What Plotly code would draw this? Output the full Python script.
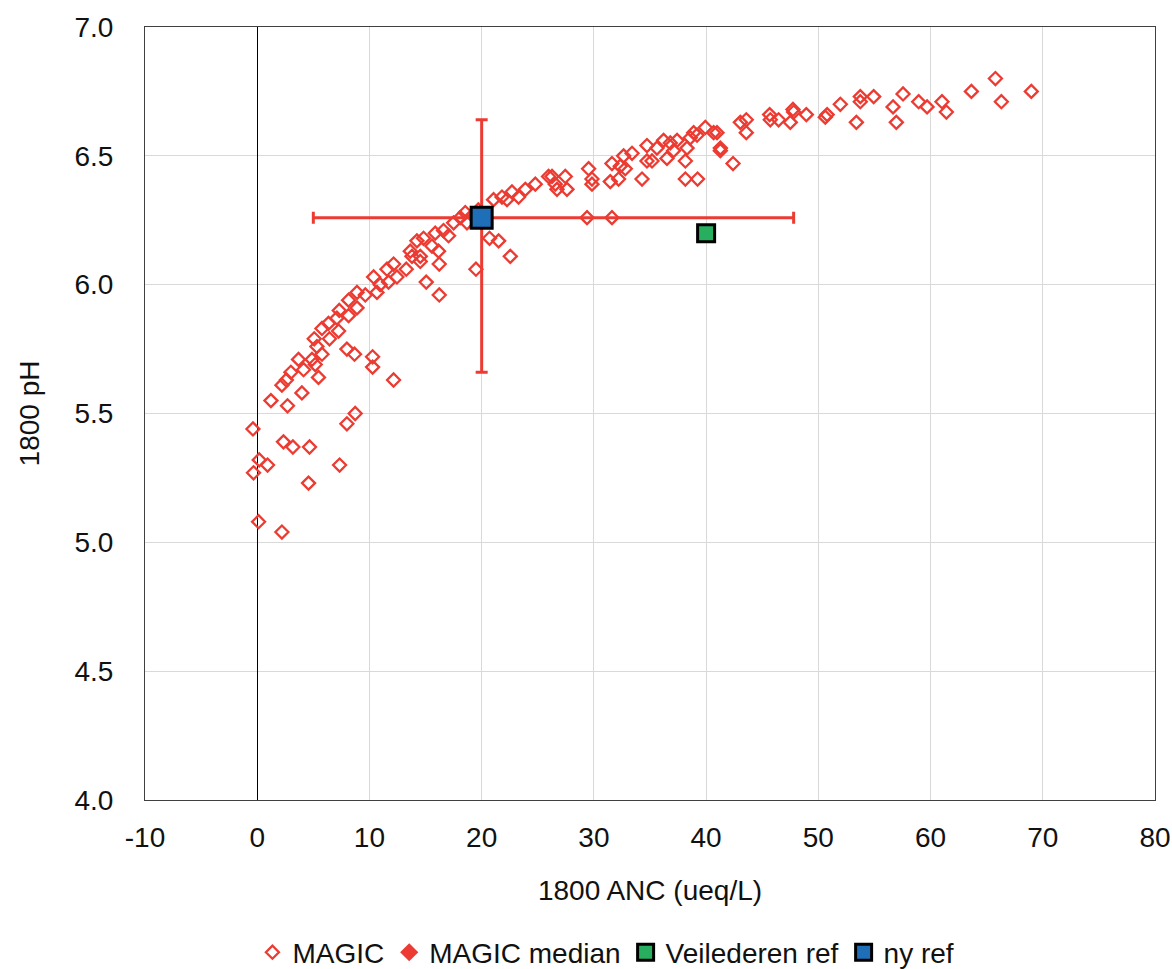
import plotly.graph_objects as go

# MAGIC simulated lakes: 1800 ANC (ueq/L) and 1800 pH
magic_anc = [
    -0.38, 0.18, -0.33, 0.92, 0.12, 2.20, 2.34, 3.18, 4.66, 4.57, 7.34, 7.99, 8.73,
    1.22, 2.70, 3.98, 5.46, 2.20, 2.60, 3.00, 3.68, 4.13, 4.88, 5.17, 5.77, 5.32,
    5.08, 5.77, 6.44, 6.35, 7.25, 7.10, 7.31, 8.14, 8.14, 8.89, 8.89, 9.63, 7.99,
    8.67, 10.28, 10.28, 12.15, 10.37, 10.67, 11.70, 12.45, 11.56, 12.15, 13.28,
    15.06, 16.22, 16.22, 19.49, 14.53,
    10.96, 13.64, 13.79, 14.23, 14.53, 14.82, 15.57, 15.86, 16.16, 16.60, 17.05,
    17.50, 18.09, 18.54, 18.69, 19.20, 19.70, 20.70, 21.51, 22.55, 21.06, 21.81,
    22.26, 22.70, 23.29, 23.89, 24.78, 25.96, 26.56, 26.71, 27.45, 27.60, 26.27,
    29.53, 29.83, 29.83, 29.39, 31.61, 31.46, 31.61, 32.20, 32.35, 32.65, 32.80,
    33.40, 34.29, 34.73, 34.73, 35.18, 35.62, 36.21, 36.51, 36.81, 37.10, 37.41,
    38.15, 38.15, 38.30, 38.59, 38.89, 39.19, 39.24, 39.93, 40.67, 40.97, 41.27,
    41.27, 42.40, 43.05, 43.58, 43.58, 45.66, 45.72, 46.46, 47.50, 47.74, 47.80,
    48.93, 50.62, 50.78, 51.96, 53.39, 53.74, 53.74, 54.93,
    56.66, 56.95, 57.55, 58.94, 59.69, 61.02, 61.41, 63.64, 65.78, 66.31, 68.98,
]
magic_ph = [
    5.44, 5.32, 5.27, 5.30, 5.08, 5.04, 5.39, 5.37, 5.37, 5.23, 5.30, 5.46, 5.50,
    5.55, 5.53, 5.58, 5.64, 5.61, 5.63, 5.66, 5.71, 5.67, 5.71, 5.69, 5.73, 5.76,
    5.79, 5.83, 5.79, 5.85, 5.82, 5.87, 5.90, 5.88, 5.94, 5.91, 5.97, 5.96, 5.75,
    5.73, 5.72, 5.68, 5.63, 6.03, 5.97, 6.01, 6.03, 6.06, 6.08, 6.06,
    6.01, 5.96, 6.08, 6.06, 6.09,
    6.00, 6.13, 6.11, 6.17, 6.11, 6.18, 6.15, 6.20, 6.13, 6.21, 6.19,
    6.24, 6.26, 6.28, 6.24, 6.27, 6.29, 6.18, 6.17, 6.11, 6.33, 6.34,
    6.33, 6.36, 6.34, 6.37, 6.39, 6.42, 6.39, 6.37, 6.42, 6.37, 6.42,
    6.45, 6.41, 6.39, 6.26, 6.26, 6.40, 6.47, 6.41, 6.46, 6.50, 6.45,
    6.51, 6.41, 6.54, 6.48, 6.48, 6.53, 6.56, 6.49, 6.55, 6.52, 6.56,
    6.48, 6.41, 6.53, 6.57, 6.59, 6.58, 6.41, 6.61, 6.59, 6.59, 6.53,
    6.52, 6.47, 6.63, 6.64, 6.59, 6.66, 6.64, 6.64, 6.63, 6.68, 6.67,
    6.66, 6.65, 6.66, 6.70, 6.63, 6.73, 6.71, 6.73,
    6.69, 6.63, 6.74, 6.71, 6.69, 6.71, 6.67, 6.75, 6.80, 6.71, 6.75,
]

# MAGIC median with spread (error bars)
median_anc = [20.0]
median_ph = [6.26]
median_anc_plus = [27.8]
median_anc_minus = [15.0]
median_ph_plus = [0.38]
median_ph_minus = [0.60]

# Reference points
veileder_anc = [40.0]
veileder_ph = [6.20]
nyref_anc = [20.0]
nyref_ph = [6.26]

# Tick labels
x_tickvals = [-10, 0, 10, 20, 30, 40, 50, 60, 70, 80]
x_ticktext = ["-10", "0", "10", "20", "30", "40", "50", "60", "70", "80"]
y_tickvals = [4.0, 4.5, 5.0, 5.5, 6.0, 6.5, 7.0]
y_ticktext = ["4.0", "4.5", "5.0", "5.5", "6.0", "6.5", "7.0"]

RED = "#EB3B32"
FONT = "Liberation Sans, Arial, sans-serif"

fig = go.Figure()
fig.add_trace(go.Scatter(
    x=magic_anc, y=magic_ph, mode="markers", name="MAGIC",
    marker=dict(symbol="diamond-open", size=10, color=RED, line=dict(width=2.3, color=RED)),
))
fig.add_trace(go.Scatter(
    x=median_anc, y=median_ph, mode="markers", name="MAGIC median",
    marker=dict(symbol="diamond", size=14, color=RED),
    error_x=dict(type="data", symmetric=False, array=median_anc_plus,
                 arrayminus=median_anc_minus, color=RED, thickness=3, width=6),
    error_y=dict(type="data", symmetric=False, array=median_ph_plus,
                 arrayminus=median_ph_minus, color=RED, thickness=3, width=6),
))
fig.add_trace(go.Scatter(
    x=veileder_anc, y=veileder_ph, mode="markers", name="Veilederen ref",
    marker=dict(symbol="square", size=17, color="#27AE5F", line=dict(width=3, color="black")),
))
fig.add_trace(go.Scatter(
    x=nyref_anc, y=nyref_ph, mode="markers", name="ny ref",
    marker=dict(symbol="square", size=21, color="#1F6EB8", line=dict(width=3, color="black")),
))

fig.update_layout(
    width=1172, height=969,
    margin=dict(l=145, r=17, t=27, b=169),
    paper_bgcolor="white", plot_bgcolor="white",
    font=dict(family=FONT, size=28, color="#111111"),
    showlegend=True,
    legend=dict(orientation="h", xref="container", yref="container",
                x=0.517, xanchor="center", y=0.017, yanchor="middle",
                font=dict(size=28), itemwidth=30, tracegroupgap=0),
)
fig.update_xaxes(
    range=[-10, 80], tickvals=x_tickvals, ticktext=x_ticktext,
    showgrid=True, gridcolor="#D9D9D9", gridwidth=1,
    zeroline=True, zerolinecolor="black", zerolinewidth=1,
    showline=True, mirror=True, linecolor="#404040", linewidth=1,
    ticks="", ticklabelstandoff=12, automargin=False,
    title=dict(text="1800 ANC (ueq/L)", standoff=28, font=dict(size=28)),
)
fig.update_yaxes(
    range=[4.0, 7.0], tickvals=y_tickvals, ticktext=y_ticktext,
    showgrid=True, gridcolor="#D9D9D9", gridwidth=1,
    zeroline=False,
    showline=True, mirror=True, linecolor="#404040", linewidth=1,
    ticks="", ticklabelstandoff=25, automargin=False,
    title=dict(text="1800 pH", standoff=26, font=dict(size=28)),
)

fig.write_html("out.html")
